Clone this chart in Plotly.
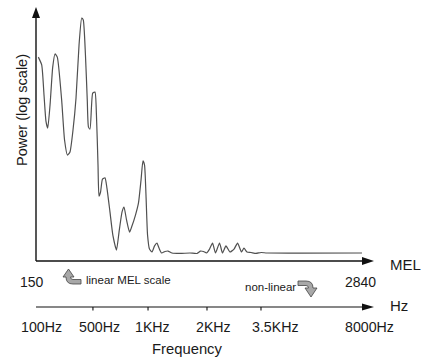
import plotly.graph_objects as go

# ---------------- data ----------------
mel = [161, 189, 208, 224, 239, 258, 280, 299, 318, 354, 378, 402, 423, 448, 473, 498, 520, 533,
       551, 566, 576, 589, 611, 630, 642, 655, 663, 676, 692, 713, 729, 754, 779, 808, 829, 854,
       870, 891, 916, 936, 965, 990, 1011, 1027, 1040, 1052, 1065, 1081, 1102, 1123, 1143, 1160,
       1181, 1209, 1234, 1267, 1334, 1416, 1474, 1503, 1528, 1553, 1578, 1603, 1627, 1661, 1685,
       1714, 1747, 1781, 1810, 1843, 1863, 1888, 1921, 1963, 2004, 2054, 2840]
power = [83.9, 80.7, 68.3, 57.6, 54.7, 64.2, 79.8, 85.2, 83.9, 66.3, 49.8, 43.6, 44.9, 53.9, 67.1,
         88.9, 100.0, 99.2, 84.8, 66.3, 55.1, 54.3, 69.1, 69.5, 60.1, 39.5, 26.7, 28.4, 33.7, 34.2,
         30.0, 20.2, 10.3, 4.5, 11.9, 20.2, 22.2, 16.9, 11.9, 14.4, 18.9, 23.9, 33.3, 41.2, 39.5,
         27.2, 10.7, 4.9, 3.7, 6.2, 7.4, 5.3, 3.3, 3.9, 4.1, 3.3, 3.1, 3.3, 3.1, 4.1, 3.9, 3.3, 4.9,
         7.4, 3.3, 7.4, 3.3, 6.2, 3.7, 4.9, 7.4, 3.7, 5.3, 3.7, 3.5, 3.1, 3.5, 3.3, 3.3]

mel_labels = ["150", "2840"]
hz_tick_mel = [613, 1069, 1557, 2004]
hz_label_mel = [191, 671, 1102, 1607, 2120, 2898]
hz_labels = ["100Hz", "500Hz", "1KHz", "2KHz", "3.5KHz", "8000Hz"]

# ---------------- layout helpers ----------------
W, H = 421, 358
FONT = "Liberation Sans, Arial, sans-serif"
TXT = "#1a1a1a"


def px(x):
    return x / W


def py(y):
    return 1 - y / H


fig = go.Figure()
fig.add_trace(go.Scatter(x=mel, y=power, mode="lines",
                         line=dict(color="#505050", width=1.2, shape="spline", smoothing=0.5),
                         hoverinfo="skip", showlegend=False))

shapes = []
AX = dict(color="#111111", width=1.4)
# y axis
shapes.append(dict(type="line", xref="paper", yref="paper", x0=px(36), x1=px(36),
                   y0=py(261), y1=py(16), line=AX))
shapes.append(dict(type="path", xref="paper", yref="paper",
                   path=f"M{px(32)},{py(18)} L{px(36)},{py(7)} L{px(40)},{py(18)} Z",
                   fillcolor="#111111", line=dict(width=0)))
# MEL axis
shapes.append(dict(type="line", xref="paper", yref="paper", x0=px(36), x1=px(364),
                   y0=py(261), y1=py(261), line=AX))
shapes.append(dict(type="path", xref="paper", yref="paper",
                   path=f"M{px(362)},{py(257)} L{px(374)},{py(261)} L{px(362)},{py(265)} Z",
                   fillcolor="#111111", line=dict(width=0)))
# Hz axis
shapes.append(dict(type="line", xref="paper", yref="paper", x0=px(36), x1=px(364),
                   y0=py(307), y1=py(307), line=dict(color="#111111", width=1.1)))
shapes.append(dict(type="path", xref="paper", yref="paper",
                   path=f"M{px(362)},{py(303.5)} L{px(374)},{py(307)} L{px(362)},{py(310.5)} Z",
                   fillcolor="#111111", line=dict(width=0)))
for m in hz_tick_mel:
    shapes.append(dict(type="line", xref="x", yref="paper", x0=m, x1=m,
                       y0=py(307), y1=py(310.5), line=dict(color="#111111", width=1.1)))

# curved arrow icons
icon1 = (f"M{px(81)},{py(284)} L{px(73)},{py(284)} Q{px(66)},{py(284)} {px(66)},{py(277)} "
         f"L{px(63)},{py(277)} L{px(68.5)},{py(269)} L{px(74)},{py(277)} L{px(70.5)},{py(277)} "
         f"Q{px(70.5)},{py(279.5)} {px(73)},{py(279.5)} L{px(81)},{py(279.5)} Z")
icon2 = (f"M{px(298)},{py(281)} L{px(306)},{py(281)} Q{px(313)},{py(281)} {px(313)},{py(288)} "
         f"L{px(317)},{py(288)} L{px(311)},{py(297)} L{px(305)},{py(288)} L{px(308.5)},{py(288)} "
         f"Q{px(308.5)},{py(285.5)} {px(306)},{py(285.5)} L{px(298)},{py(285.5)} Z")
for pth in (icon1, icon2):
    shapes.append(dict(type="path", xref="paper", yref="paper", path=pth,
                       fillcolor="#a8a8a8", line=dict(color="#444444", width=0.8)))

ann = []


def text(t, x, y, size=14, xanchor="center", textangle=0, xref="paper"):
    ann.append(dict(text=t, x=x, y=y, xref=xref, yref="paper", showarrow=False,
                    xanchor=xanchor, yanchor="middle", textangle=textangle,
                    font=dict(family=FONT, size=size, color=TXT)))


text("Power (log scale)", px(22), py(110), size=14.5, textangle=-90)
text("MEL", px(388), py(264), size=15, xanchor="left")
text(mel_labels[0], px(32), py(282), size=14)
text(mel_labels[1], px(360), py(282), size=14)
text("linear MEL scale", px(84), py(280), size=11.5, xanchor="left")
text("non-linear", px(298), py(287), size=11.5, xanchor="right")
text("Hz", px(388), py(305), size=15, xanchor="left")
for m, lab in zip(hz_label_mel, hz_labels):
    text(lab, m, py(327), size=14.2, xref="x")
text("Frequency", px(187), py(349), size=14.8)

x_lo = 150 - 37 * 8.277
x_hi = 150 + (W - 37) * 8.277
y_lo = (261 - H) / 2.43
y_hi = 261 / 2.43

fig.update_layout(
    width=W, height=H, margin=dict(l=0, r=0, t=0, b=0),
    paper_bgcolor="white", plot_bgcolor="white",
    xaxis=dict(visible=False, range=[x_lo, x_hi], fixedrange=True),
    yaxis=dict(visible=False, range=[y_lo, y_hi], fixedrange=True),
    shapes=shapes, annotations=ann, showlegend=False,
)
fig.write_html("out.html", config={"displayModeBar": False})
